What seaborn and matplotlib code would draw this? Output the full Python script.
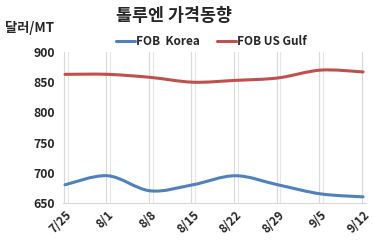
import numpy as np
import pandas as pd
import matplotlib
matplotlib.use("Agg")
import matplotlib.pyplot as plt
import seaborn as sns
from matplotlib.path import Path
from matplotlib.patches import PathPatch
from matplotlib.lines import Line2D

dates = ["7/25", "8/1", "8/8", "8/15", "8/22", "8/29", "9/5", "9/12"]
fob_korea = [680, 695, 670, 680, 695, 680, 665, 660]
fob_us_gulf = [863, 863, 858, 850, 853, 857, 870, 867]
yticks = [650, 700, 750, 800, 850, 900]

sns.set_theme(style="white")
plt.rcParams['font.family'] = ['Noto Sans CJK KR', 'DejaVu Sans']

blue = "#4F81BD"
red = "#C0504D"

df = pd.DataFrame({"x": list(range(len(dates))) * 2,
                   "value": fob_korea + fob_us_gulf,
                   "series": ["FOB  Korea"] * len(dates) + ["FOB US Gulf"] * len(dates)})

fig = plt.figure(figsize=(3.72, 2.43), dpi=100)
ax = fig.add_axes([0.169, 0.165, 0.815, 0.621])

sns.lineplot(data=df, x="x", y="value", hue="series",
             palette=[blue, red], ax=ax, legend=False, linewidth=0)
for ln in ax.lines:
    ln.set_visible(False)

def smooth_path(xs, ys):
    pts = np.column_stack([xs, ys]).astype(float)
    n = len(pts)
    verts = [pts[0]]
    codes = [Path.MOVETO]
    for i in range(n - 1):
        p0 = pts[i - 1] if i > 0 else pts[i]
        p1 = pts[i]
        p2 = pts[i + 1]
        p3 = pts[i + 2] if i + 2 < n else pts[i + 1]
        c1 = p1 + (p2 - p0) / 6.0
        c2 = p2 - (p3 - p1) / 6.0
        verts += [c1, c2, p2]
        codes += [Path.CURVE4] * 3
    return Path(verts, codes)

x = np.arange(len(dates))
for vals, col in [(fob_korea, blue), (fob_us_gulf, red)]:
    patch = PathPatch(smooth_path(x, vals), facecolor="none", edgecolor=col,
                      lw=2.2, capstyle="round", joinstyle="round", zorder=3)
    ax.add_patch(patch)

# vertical double gridlines
for xi in x:
    ax.axvline(xi - 0.03, color="#d9d9d9", lw=0.8, zorder=1)
    ax.axvline(xi + 0.06, color="#e6e6e6", lw=0.8, zorder=1)

ax.set_xlim(-0.05, 7.07)
ax.set_ylim(650, 900)
ax.set_yticks(yticks)
ax.set_yticklabels([str(v) for v in yticks], fontsize=8.8, fontweight="bold", color="#262626")
ax.set_xticks(x)
ax.set_xticklabels(dates, rotation=45, ha="right", rotation_mode="anchor",
                   fontsize=8.5, fontweight="bold", color="#262626")
ax.tick_params(axis="both", length=0, pad=6)
ax.tick_params(axis="x", pad=4)
ax.set_xlabel("")
ax.set_ylabel("")
for s in ["top", "right", "left"]:
    ax.spines[s].set_visible(False)
ax.spines["bottom"].set_color("#d9d9d9")
ax.spines["bottom"].set_linewidth(0.8)

fig.text(0.468, 0.935, "톨루엔 가격동향", ha="center", va="center",
         fontsize=12.5, fontweight="bold", color="#262626")
fig.text(0.013, 0.885, "달러/MT", ha="left", va="center",
         fontsize=9.5, fontweight="bold", color="#262626")

handles = [Line2D([], [], color=blue, lw=2.2), Line2D([], [], color=red, lw=2.2)]
leg = fig.legend(handles, ["FOB  Korea", "FOB US Gulf"], loc="center",
                 bbox_to_anchor=(0.568, 0.83), ncol=2, frameon=False,
                 prop={"size": 8.5, "weight": "bold"}, handlelength=1.6,
                 handletextpad=0.15, columnspacing=1.4, borderaxespad=0)
for t in leg.get_texts():
    t.set_color("#262626")

fig.savefig("out.png", dpi=100)
